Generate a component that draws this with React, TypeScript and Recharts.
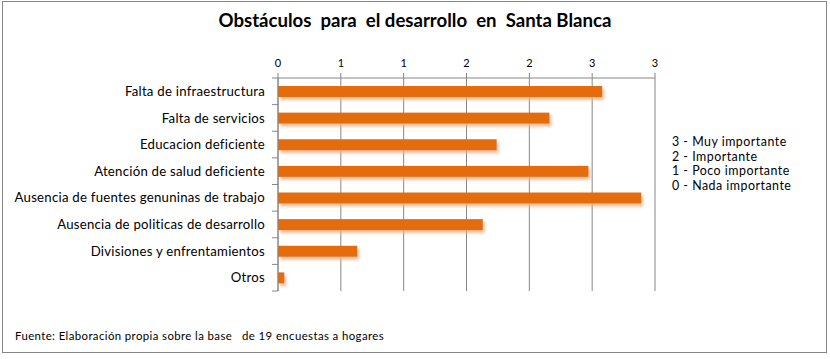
import React from 'react';
import { BarChart, Bar, XAxis, YAxis, CartesianGrid } from 'recharts';

const CATEGORIES = [
  'Falta de infraestructura',
  'Falta de servicios',
  'Educacion deficiente',
  'Atención de salud deficiente',
  'Ausencia de fuentes genuninas de trabajo',
  'Ausencia de politicas de desarrollo',
  'Divisiones y enfrentamientos',
  'Otros',
];
const VALUES = [2.58, 2.16, 1.74, 2.47, 2.89, 1.63, 0.63, 0.05];
const X_TICKS = [0, 0.5, 1, 1.5, 2, 2.5, 3];
const LEGEND_LINES = ['3 - Muy importante', '2 - Importante', '1 - Poco importante', '0 - Nada importante'];

const TITLE = 'Obstáculos  para  el desarrollo  en  Santa Blanca';
const SOURCE = 'Fuente: Elaboración propia sobre la base   de 19 encuestas a hogares';

const data = CATEGORIES.map((name, i) => ({ name, value: VALUES[i] }));

const FONT = 'Lato, "Open Sans", sans-serif';
const GREY = '#868686';
const ORANGE = '#E46C0A';

const W = 830;
const H = 359;
const MARGIN = { top: 48, right: 175, bottom: 68, left: 0 };
const X_AXIS_H = 30;
const PLOT_H = H - MARGIN.top - X_AXIS_H - MARGIN.bottom;
const BAND = PLOT_H / CATEGORIES.length;

// category label + Excel style tick marks between categories
const CatTick = (props: any) => {
  const { x, y, payload, index } = props;
  const lx = x + 7;
  return (
    <g>
      <text
        x={x}
        y={y}
        dy="0.355em"
        textAnchor="end"
        fontFamily={FONT}
        fontSize={13.2}
        letterSpacing={0.25}
        fill="#000"
      >
        {payload.value}
      </text>
      {index === 0 && <line x1={lx} x2={lx + 6} y1={y - BAND / 2} y2={y - BAND / 2} stroke={GREY} />}
      <line x1={lx} x2={lx + 6} y1={y + BAND / 2} y2={y + BAND / 2} stroke={GREY} />
    </g>
  );
};

const ShadowBar = (props: any) => {
  const { x, y, width, height } = props;
  return <rect x={x} y={y} width={width} height={height} fill={ORANGE} filter="url(#barShadow)" />;
};

export default function App() {
  return (
    <div style={{ position: 'absolute', left: 0, top: 0, width: W, height: H, background: '#fff', fontFamily: FONT }}>
      <svg width={0} height={0} style={{ position: 'absolute' }}>
        <defs>
          <filter id="barShadow" filterUnits="userSpaceOnUse" x={0} y={0} width={W} height={H}>
            <feDropShadow dx={2} dy={3} stdDeviation={1.6} floodColor="#F7B083" floodOpacity={0.8} />
          </filter>
        </defs>
      </svg>
      <div
        style={{
          position: 'absolute', left: 2, top: 1, width: 825, height: 352,
          border: `1px solid ${GREY}`, boxSizing: 'border-box',
        }}
      />
      <div
        style={{
          position: 'absolute', left: 0, top: 9, width: W, textAlign: 'center',
          fontSize: 18.6, fontWeight: 700, lineHeight: 1.2, color: '#000', whiteSpace: 'pre',
        }}
      >
        {TITLE}
      </div>
      <div style={{ position: 'absolute', left: 0, top: 0 }}>
        <BarChart width={W} height={H} data={data} layout="vertical" margin={MARGIN}>
          <CartesianGrid horizontal={false} stroke={GREY} />
          <XAxis
            type="number"
            orientation="top"
            domain={[0, 3]}
            ticks={X_TICKS}
            height={X_AXIS_H}
            tickFormatter={(v: number) => String(Math.round(v))}
            axisLine={{ stroke: GREY }}
            tickLine={{ stroke: GREY }}
            tickSize={5}
            tickMargin={6}
            tick={{ fontFamily: FONT, fontSize: 11, fill: '#000' }}
            interval={0}
          />
          <YAxis
            type="category"
            dataKey="name"
            width={278}
            axisLine={{ stroke: GREY }}
            tickLine={false}
            tickSize={6}
            tickMargin={7}
            tick={<CatTick />}
            interval={0}
          />
          <Bar dataKey="value" fill={ORANGE} barSize={11} shape={<ShadowBar />} isAnimationActive={false} />
        </BarChart>
      </div>
      <div
        style={{
          position: 'absolute', left: 672, top: 135, fontSize: 12.4, letterSpacing: 0.5,
          lineHeight: '14.5px', color: '#000', whiteSpace: 'pre',
        }}
      >
        {LEGEND_LINES.map((t) => (
          <div key={t}>{t}</div>
        ))}
      </div>
      <div
        style={{
          position: 'absolute', left: 15, top: 329, fontSize: 11.4, letterSpacing: 0.4,
          lineHeight: 1.2, color: '#000', whiteSpace: 'pre',
        }}
      >
        {SOURCE}
      </div>
    </div>
  );
}
